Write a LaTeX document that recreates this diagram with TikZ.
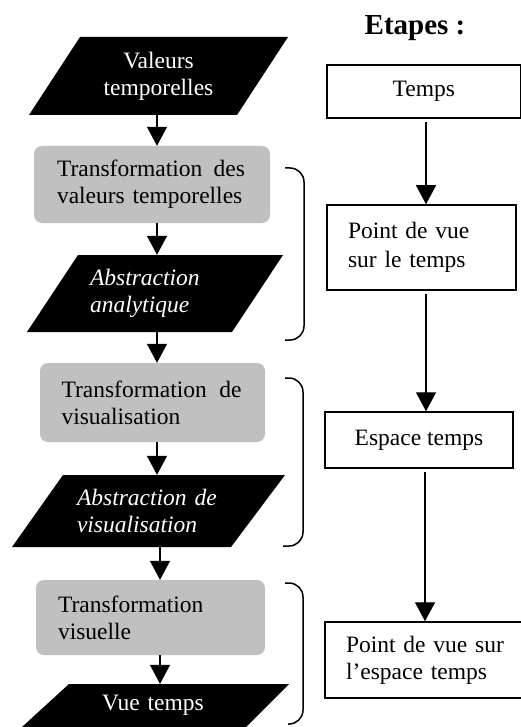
\documentclass[tikz,border=0pt]{standalone}
\usepackage{fontspec}
\setmainfont{Liberation Serif}
\usetikzlibrary{arrows.meta}
\pgfdeclarelayer{bg}
\pgfsetlayers{bg,main}
\definecolor{boxgray}{RGB}{192,192,192}
\begin{document}
\begin{tikzpicture}[x=1pt,y=-1pt,
  every node/.style={font=\fontsize{23.5}{27}\selectfont},
  para/.style={inner sep=0pt, text=white},
  paraital/.style={para, font=\fontsize{23.5}{27}\selectfont\itshape},
  grey/.style={fill=boxgray, rounded corners=8pt, inner ysep=0pt, align=left},
  stepbox/.style={draw, line width=1.5pt, inner ysep=0pt},
  arr/.style={line width=1.3pt, -{Triangle[width=20pt,length=19pt]}},
  brk/.style={line width=1.5pt, rounded corners=14pt}]
\useasboundingbox (0,0) rectangle (521,727);

% column coordinates for the vertical connectors
\coordinate (colA) at (157,0);
\coordinate (colB) at (160,0);
\coordinate (colR) at (426,0);
\coordinate (colS) at (425,0);

% left column: parallelograms (text nodes) and grey boxes
\node[para, minimum height=78pt, text width=150pt, align=center] (p1) at (158.5,76) {Valeurs\\temporelles};
\node[grey, minimum width=236pt, minimum height=77pt, text width=190pt, inner xsep=23pt] (g1) at (152,184.5)
  {\makebox[188pt][s]{Transformation\hspace{0pt plus 20pt}des}\\\mbox{valeurs temporelles}};
\node[paraital, minimum height=77pt, text width=130pt, align=left] (p2) at (155,293.5) {\mbox{Abstraction}\\\mbox{analytique}};
\node[grey, minimum width=225pt, minimum height=79pt, text width=182pt, inner xsep=21.5pt] (g2) at (152.5,402.5)
  {\makebox[180pt][s]{Transformation\hspace{0pt plus 20pt}de}\\\mbox{visualisation}};
\node[paraital, minimum height=72pt, text width=143pt, align=left] (p3) at (148.5,511) {\mbox{Abstraction de}\\\mbox{visualisation}};
\node[grey, minimum width=229pt, minimum height=75pt, text width=185pt, inner xsep=22pt] (g3) at (150.5,617.5)
  {\mbox{Transformation}\\\mbox{visuelle}};
\node[para, minimum height=43pt, text width=107pt, align=left] (p4) at (155.5,705.5) {\mbox{Vue temps}};

\begin{pgfonlayer}{bg}
\fill (80,37) -- (288,37) -- (237,115) -- (29,115) -- cycle;
\fill (78,255) -- (283,255) -- (232,332) -- (27,332) -- cycle;
\fill (63,475) -- (285,475) -- (231,547) -- (12,547) -- cycle;
\fill (69,684) -- (289,684) -- (246,727) -- (22,727) -- cycle;
\end{pgfonlayer}

% right column
\node[font=\fontsize{29}{33}\selectfont\bfseries] (title) at (415,28.5) {Etapes :};
\node[stepbox, minimum width=193.5pt, minimum height=53pt] (r1) at (423.75,91.5) {Temps};
\node[stepbox, minimum width=189pt, minimum height=85pt, text width=147pt, inner xsep=21pt, align=left,
  font=\fontsize{23.5}{29}\selectfont] (r2) at (421.5,247.5) {\mbox{Point de vue}\\\mbox{sur le temps}};
\node[stepbox, minimum width=188pt, minimum height=56pt] (r3) at (419,440) {Espace temps};
\node[stepbox, minimum width=199pt, minimum height=76pt, text width=157pt, inner xsep=21pt, align=left] (r4) at (424.5,660)
  {\mbox{Point de vue sur}\\\mbox{l’espace temps}};

% connectors
\draw[arr] (p1.south -| colA) -- (g1.north -| colA);
\draw[arr] (g1.south -| colA) -- (p2.north -| colA);
\draw[arr] (p2.south -| colA) -- (g2.north -| colA);
\draw[arr] (g2.south -| colA) -- (p3.north -| colA);
\draw[arr] (p3.south -| colB) -- (g3.north -| colB);
\draw[arr] (g3.south -| colB) -- (p4.north -| colB);
\draw[arr, shorten <=3pt] (r1.south -| colR) -- (r2.north -| colR);
\draw[arr, shorten <=3pt] (r2.south -| colR) -- (r3.north -| colR);
\draw[arr, shorten <=3pt] (r3.south -| colS) -- (r4.north -| colS);

% brackets
\draw[brk] (285,168) -- (304,168) -- (304,340) -- (285,340);
\draw[brk] (285,378) -- (303,378) -- (303,546) -- (283,546);
\draw[brk] (285,583) -- (303,583) -- (303,724) -- (288,724);
\end{tikzpicture}
\end{document}
